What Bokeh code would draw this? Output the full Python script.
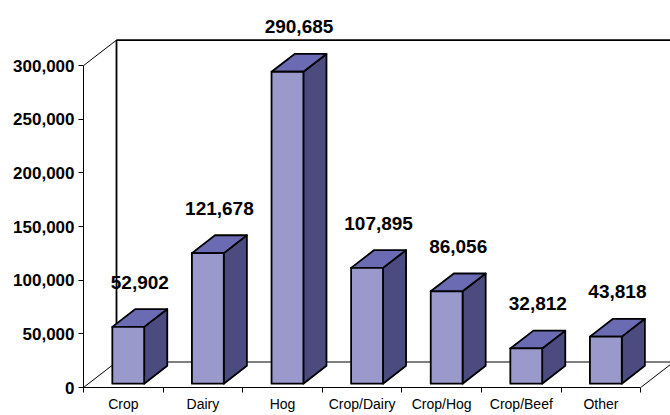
from bokeh.plotting import figure
from bokeh.models import FixedTicker, NumeralTickFormatter, Range1d
from bokeh.core.properties import value
from bokeh.embed import file_html
from bokeh.resources import INLINE

# ---- data ----
categories = ["Crop", "Dairy", "Hog", "Crop/Dairy", "Crop/Hog", "Crop/Beef", "Other"]
farm_counts = [52902, 121678, 290685, 107895, 86056, 32812, 43818]
y_ticks = [0, 50000, 100000, 150000, 200000, 250000, 300000]

# ---- geometry ----
W, H = 670, 415
BL, BB = 83, 28
PX_PER_CAT = 79.6
PX_PER_UNIT = 1.073 / 1000.0
fw, fh = W - BL, H - BB
x_end = fw / PX_PER_CAT
y_end = fh / PX_PER_UNIT

DX = 33 / PX_PER_CAT          # depth offset (x, category units)
DY = 25.5 / PX_PER_UNIT       # depth offset (y, value units)
D0, D1 = 0.15, 0.85           # bar depth span
BW = 0.4                      # bar width
LABEL_GAP = 27 / PX_PER_UNIT
n = len(categories)
ymax = y_ticks[-1]

FRONT = "#9999CC"
TOP = "#6B6BB3"
SIDE = "#4B4B80"
FONT = "Liberation Sans"

p = figure(width=W, height=H, output_backend="svg", toolbar_location=None,
           x_range=Range1d(0, x_end), y_range=Range1d(0, y_end),
           min_border_left=BL, min_border_right=0, min_border_top=0,
           min_border_bottom=BB, background_fill_color="white",
           border_fill_color="white")
p.outline_line_color = None
p.xgrid.visible = False
p.ygrid.visible = False

# ---- walls / floor ----
wall_xs = [[DX, DX], [DX, n + DX], [0, DX], [0, DX], [n, n + DX], [DX, n + DX], [n + DX, n + DX]]
wall_ys = [[DY, ymax + DY], [ymax + DY, ymax + DY], [ymax, ymax + DY], [0, DY], [0, DY], [DY, DY], [DY, ymax + DY]]
wall_w = [1.8, 1.8, 1, 1, 1, 1, 1.8]
p.multi_line(xs=wall_xs, ys=wall_ys, line_color="black", line_width=wall_w)

# ---- bars ----
front_xs, front_ys, top_xs, top_ys, side_xs, side_ys = [], [], [], [], [], []
lab_x, lab_y, lab_t = [], [], []
for i, v in enumerate(farm_counts):
    c = i + 0.5
    xl, xr = c - BW / 2, c + BW / 2
    front_xs.append([xl + D0 * DX, xr + D0 * DX, xr + D0 * DX, xl + D0 * DX])
    front_ys.append([D0 * DY, D0 * DY, v + D0 * DY, v + D0 * DY])
    top_xs.append([xl + D0 * DX, xr + D0 * DX, xr + D1 * DX, xl + D1 * DX])
    top_ys.append([v + D0 * DY, v + D0 * DY, v + D1 * DY, v + D1 * DY])
    side_xs.append([xr + D0 * DX, xr + D1 * DX, xr + D1 * DX, xr + D0 * DX])
    side_ys.append([D0 * DY, D1 * DY, v + D1 * DY, v + D0 * DY])
    lab_x.append(c + (D0 + D1) / 2 * DX)
    lab_y.append(v + D1 * DY + LABEL_GAP)
    lab_t.append(f"{v:,}")

for xs, ys, col in [(side_xs, side_ys, SIDE), (top_xs, top_ys, TOP), (front_xs, front_ys, FRONT)]:
    p.patches(xs=xs, ys=ys, fill_color=col, line_color="black", line_width=1.8,
              line_join="round")

p.text(x=lab_x, y=lab_y, text=lab_t, text_font=value(FONT), text_font_size="19px",
       text_font_style="bold", text_align="center", text_baseline="middle",
       text_color="black")

# ---- axes ----
ya = p.yaxis[0]
ya.ticker = FixedTicker(ticks=y_ticks)
ya.formatter = NumeralTickFormatter(format="0,0")
ya.bounds = (0, ymax)
ya.axis_line_color = "black"
ya.major_tick_in = 0
ya.major_tick_out = 5
ya.minor_tick_line_color = None
ya.major_label_standoff = 4
ya.major_label_text_font = FONT
ya.major_label_text_font_size = "17px"
ya.major_label_text_font_style = "bold"
ya.major_label_text_color = "black"

xa = p.xaxis[0]
xa.ticker = FixedTicker(ticks=[i + 0.5 for i in range(n)], minor_ticks=list(range(n + 1)))
xa.major_label_overrides = {i + 0.5: categories[i] for i in range(n)}
xa.bounds = (0, n)
xa.axis_line_color = "black"
xa.major_tick_line_color = None
xa.major_tick_in = 0
xa.major_tick_out = 0
xa.minor_tick_in = 0
xa.minor_tick_out = 5
xa.minor_tick_line_color = "black"
xa.major_label_standoff = 3
xa.major_label_text_font = FONT
xa.major_label_text_font_size = "14px"
xa.major_label_text_color = "black"

open("out.html", "w").write(file_html(p, INLINE))
